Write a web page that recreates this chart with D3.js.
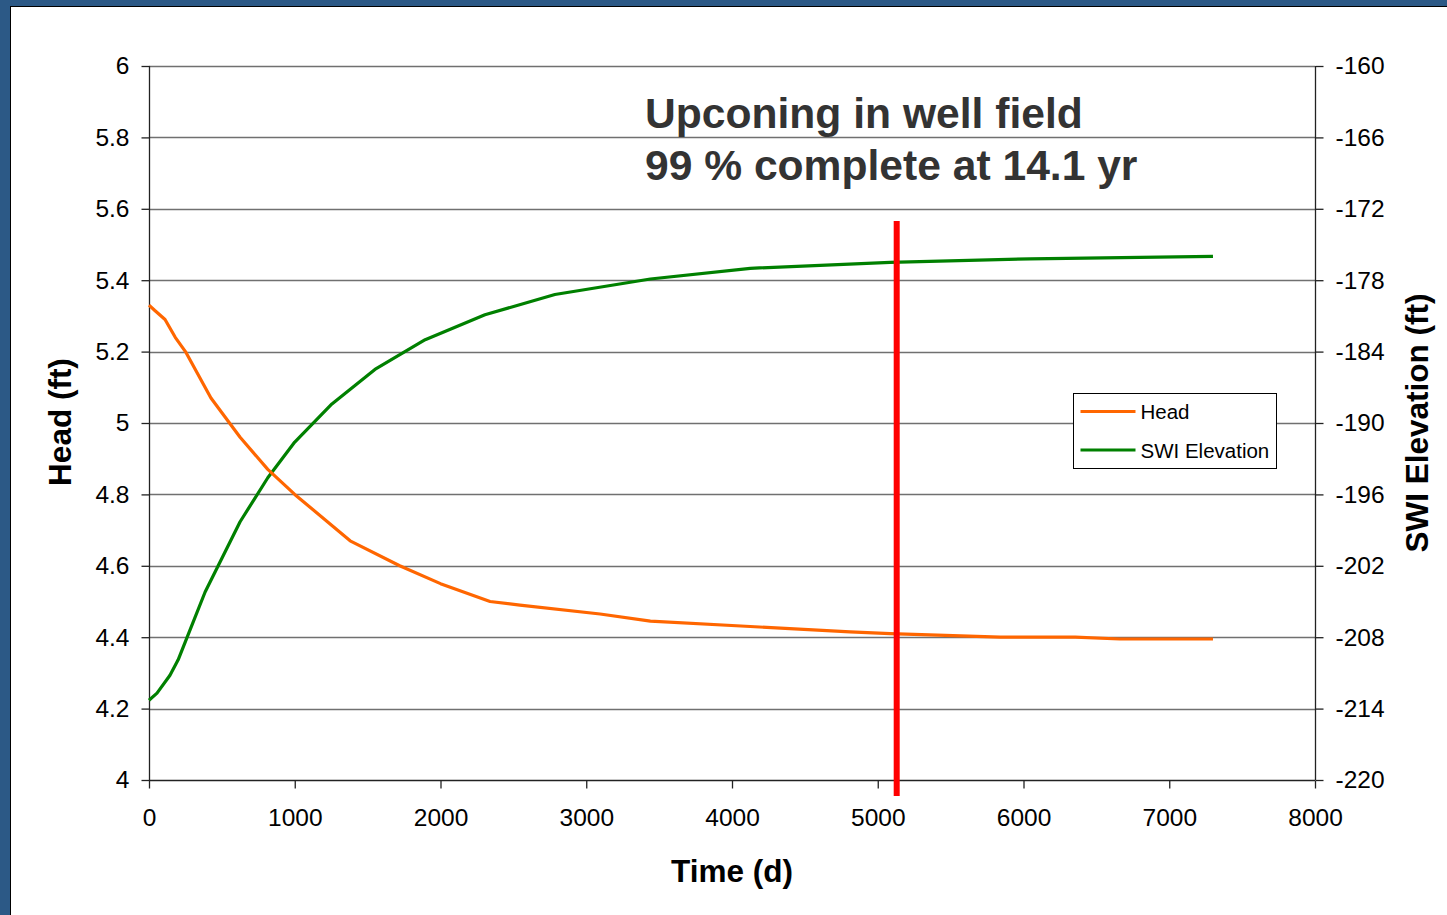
<!DOCTYPE html>
<html>
<head>
<meta charset="utf-8">
<script src="https://cdn.jsdelivr.net/npm/d3@7"></script>
<style>
  html, body { margin: 0; padding: 0; background: #2c5986; }
  svg { display: block; font-family: "Liberation Sans", Arial, sans-serif; }
</style>
</head>
<body>
<div id="chart"></div>
<script>
// data
var headDays  = [0, 40, 110, 180, 250, 425, 625, 815, 1000, 1380, 1720, 2000, 2340, 2545, 3095, 3440, 4125, 4810, 5085, 5840, 6355, 6660, 7300];
var headFt    = [5.33, 5.315, 5.29, 5.24, 5.20, 5.07, 4.96, 4.87, 4.80, 4.67, 4.60, 4.55, 4.50, 4.49, 4.465, 4.445, 4.43, 4.415, 4.41, 4.40, 4.40, 4.395, 4.395];
var swiDays   = [0, 55, 144, 200, 281, 385, 625, 815, 1000, 1255, 1550, 1895, 2305, 2785, 3440, 4125, 5085, 6045, 7300];
var swiFt     = [-213.3, -212.7, -211.2, -209.9, -207.4, -204.2, -198.3, -194.6, -191.6, -188.4, -185.5, -183.0, -180.9, -179.2, -177.9, -177.0, -176.5, -176.2, -176.0];
var markerDay = 5130;
var markerTop = 5.566, markerBottom = 3.955;
var xTicks = [0, 1000, 2000, 3000, 4000, 5000, 6000, 7000, 8000];
var leftTicks = [4, 4.2, 4.4, 4.6, 4.8, 5, 5.2, 5.4, 5.6, 5.8, 6];
var rightTicks = [-220, -214, -208, -202, -196, -190, -184, -178, -172, -166, -160];
var titleLines = ["Upconing in well field", "99 % complete at 14.1 yr"];
var seriesNames = ["Head", "SWI Elevation"];
var seriesColors = ["#ff6600", "#008000"];

var W = 1447, H = 915;
var svg = d3.select("#chart").append("svg")
    .attr("width", W).attr("height", H);

// blue frame and white panel
svg.append("rect").attr("x", 0).attr("y", 0).attr("width", W).attr("height", H).attr("fill", "#2c5986");
svg.append("rect").attr("x", 10.5).attr("y", 6.5).attr("width", W).attr("height", H)
    .attr("fill", "#fff").attr("stroke", "#000").attr("stroke-width", 1);

var x = d3.scaleLinear().domain([0, 8000]).range([149, 1315]);
var yL = d3.scaleLinear().domain([4, 6]).range([780, 66]);
var yR = d3.scaleLinear().domain([-220, -160]).range([780, 66]);

// gridlines
svg.append("g").selectAll("line").data(leftTicks.slice(1)).enter().append("line")
    .attr("x1", x(0)).attr("x2", x(8000))
    .attr("y1", function(d) { return Math.round(yL(d)) + 0.5; })
    .attr("y2", function(d) { return Math.round(yL(d)) + 0.5; })
    .attr("stroke", "#707070").attr("stroke-width", 1.3);

var fmtL = function(d) { return String(+d.toFixed(1)); };
var fmtR = function(d) { return String(d); };

var left = svg.append("g").attr("transform", "translate(149.5,0)")
    .call(d3.axisLeft(yL).tickValues(leftTicks).tickFormat(fmtL).tickSize(8).tickPadding(12));
var right = svg.append("g").attr("transform", "translate(1315.5,0)")
    .call(d3.axisRight(yR).tickValues(rightTicks).tickFormat(fmtR).tickSize(8).tickPadding(12));
var bottom = svg.append("g").attr("transform", "translate(0,780.5)")
    .call(d3.axisBottom(x).tickValues(xTicks).tickFormat(fmtR).tickSize(8).tickPadding(20));

[left, right, bottom].forEach(function(g) {
  g.select(".domain").attr("stroke", "#222").attr("stroke-width", 1.3);
  g.selectAll(".tick line").attr("stroke", "#222").attr("stroke-width", 1.3);
  g.selectAll(".tick text").attr("font-size", 24.5).attr("fill", "#000")
    .attr("font-family", "Liberation Sans, Arial, sans-serif");
});
left.select(".domain").attr("d", "M0,66V780");
right.select(".domain").attr("d", "M0,66V780");
bottom.select(".domain").attr("d", "M149,0H1315");

// series (straight segments between points, like the original)
var lineL = d3.line().x(function(d) { return x(d[0]); }).y(function(d) { return yL(d[1]); });
var lineR = d3.line().x(function(d) { return x(d[0]); }).y(function(d) { return yR(d[1]); });

svg.append("path").datum(d3.zip(swiDays, swiFt))
    .attr("d", lineR).attr("fill", "none").attr("stroke", seriesColors[1]).attr("stroke-width", 3.2)
    .attr("stroke-linejoin", "round");
svg.append("path").datum(d3.zip(headDays, headFt))
    .attr("d", lineL).attr("fill", "none").attr("stroke", seriesColors[0]).attr("stroke-width", 3.2)
    .attr("stroke-linejoin", "round");

// marker line
svg.append("line")
    .attr("x1", x(markerDay)).attr("x2", x(markerDay))
    .attr("y1", yL(markerTop)).attr("y2", yL(markerBottom))
    .attr("stroke", "#ff0000").attr("stroke-width", 6);

// title
svg.append("g").selectAll("text").data(titleLines).enter().append("text")
    .attr("x", 645).attr("y", function(d, i) { return 128 + i * 52; })
    .attr("font-size", 42.6).attr("font-weight", "bold").attr("fill", "#333")
    .text(function(d) { return d; });

// axis titles
svg.append("text").attr("transform", "translate(71,422) rotate(-90)")
    .attr("text-anchor", "middle").attr("font-size", 31.5).attr("font-weight", "bold").text("Head (ft)");
svg.append("text").attr("transform", "translate(1428,423) rotate(-90)")
    .attr("text-anchor", "middle").attr("font-size", 31.5).attr("font-weight", "bold").text("SWI Elevation (ft)");
svg.append("text").attr("x", 732).attr("y", 882)
    .attr("text-anchor", "middle").attr("font-size", 31.5).attr("font-weight", "bold").text("Time (d)");

// legend
var lg = svg.append("g").attr("transform", "translate(1073.5,393.5)");
lg.append("rect").attr("width", 203).attr("height", 75).attr("fill", "#fff").attr("stroke", "#000").attr("stroke-width", 1);
var items = lg.selectAll("g").data(seriesNames).enter().append("g")
    .attr("transform", function(d, i) { return "translate(0," + (18 + i * 38.5) + ")"; });
items.append("line").attr("x1", 7).attr("x2", 62)
    .attr("stroke", function(d, i) { return seriesColors[i]; }).attr("stroke-width", 3.2);
items.append("text").attr("x", 67).attr("y", 7.5).attr("font-size", 20.5)
    .text(function(d) { return d; });
</script>
</body>
</html>
